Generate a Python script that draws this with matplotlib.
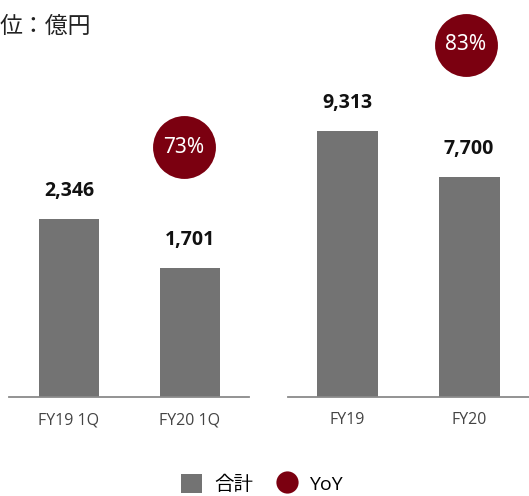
import numpy as np
import matplotlib
matplotlib.use('Agg')
import matplotlib.pyplot as plt
from matplotlib.patches import Patch
from matplotlib.lines import Line2D

plt.rcParams['font.family'] = ['Open Sans', 'Noto Sans CJK JP', 'DejaVu Sans']

################################################################
# Data
q_labels = ['FY19 1Q', 'FY20 1Q']
q_values = [2346, 1701]
q_yoy = 73

y_labels = ['FY19', 'FY20']
y_values = [9313, 7700]
y_yoy = 83

unit_text = '位：億円'
legend_labels = ['合計', 'YoY']

bar_c = '#737373'
yoy_c = '#7b0010'
axis_c = '#8a8a8a'
tick_c = '#444444'
lab_c = '#111111'

################################################################
# Plot
fig = plt.figure(figsize=(5.29, 4.96), dpi=100)
W, H = 529., 496.

def make_panel(x0, x1, xlim, ylim, labels, values, yoy, circ):
    ax = fig.add_axes([x0/W, (H-397)/H, (x1-x0)/W, 397/H])
    xs = np.arange(len(values))
    ax.bar(xs, values, width=0.5, color=bar_c, zorder=2)
    for x, v in zip(xs, values):
        ax.annotate('{:,}'.format(v), (x, v), xytext=(0, 20), textcoords='offset points',
                    ha='center', va='center', fontsize=14, fontweight='bold', color=lab_c)
    ax.scatter([circ[0]], [circ[1]], s=2050, color=yoy_c, zorder=3, linewidths=0)
    ax.text(circ[0], circ[1], '{:d}%'.format(yoy), ha='center', va='center',
            fontsize=15, fontweight='semibold', family=['Noto Sans', 'DejaVu Sans'],
            color='white', zorder=4)
    ax.set_xlim(*xlim)
    ax.set_ylim(0, ylim)
    ax.set_xticks(xs)
    ax.set_xticklabels(labels)
    ax.tick_params(axis='x', length=0, pad=11, labelsize=11.5, labelcolor=tick_c)
    ax.set_yticks([])
    for s in ['top', 'left', 'right']:
        ax.spines[s].set_visible(False)
    ax.spines['bottom'].set_color(axis_c)
    ax.spines['bottom'].set_linewidth(1.3)
    ax.patch.set_alpha(0)
    return ax

make_panel(9, 249, (-0.496, 1.488), 5231, q_labels, q_values, q_yoy, (0.95, 3294))
make_panel(288, 529, (-0.484, 1.49), 13900, y_labels, y_values, y_yoy, (0.97, 12325))

fig.text(0, 1 - 27/H, unit_text, ha='left', va='center', fontsize=16.5, color='#222222')

handles = [Patch(facecolor=bar_c, edgecolor='none'),
           Line2D([], [], marker='o', ls='none', markersize=16, markerfacecolor=yoy_c,
                  markeredgewidth=0)]
fig.legend(handles, legend_labels, loc='center', bbox_to_anchor=(262/W, 1 - 484/H),
           ncol=2, frameon=False, fontsize=14, handlelength=1.1, handleheight=1.1,
           handletextpad=0.6, columnspacing=1.2)

plt.savefig('out.png', dpi=100)
